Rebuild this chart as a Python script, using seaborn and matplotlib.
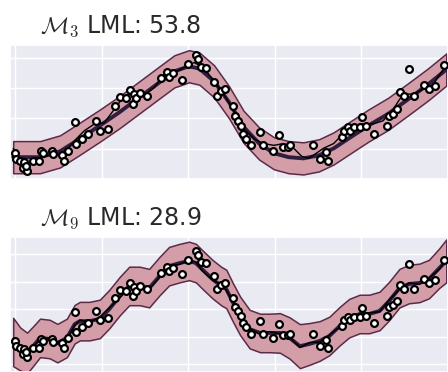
import numpy as np
import pandas as pd
import matplotlib
matplotlib.use("Agg")
import matplotlib.pyplot as plt
import seaborn as sns

sns.set_theme(style="darkgrid")
plt.rcParams["mathtext.fontset"] = "cm"
plt.rcParams["font.family"] = ["DejaVu Sans"]

# observed points (same in both panels)
obs_x = [0.00, 0.01, 0.06, 0.10, 0.09, 0.14, 0.13, 0.21, 0.28, 0.30, 0.32, 0.43, 0.44, 0.54,
         0.57, 0.61, 0.69, 0.70, 0.78, 0.84, 0.94, 0.98, 1.07, 1.15, 1.21, 1.28, 1.33, 1.36,
         1.38, 1.40, 1.44, 1.52, 1.69, 1.76, 1.78, 1.82, 1.93, 2.00, 2.09, 2.11, 2.15, 2.21,
         2.30, 2.33, 2.38, 2.43, 2.52, 2.54, 2.57, 2.61, 2.63, 2.67, 2.72, 2.83, 2.86, 2.98,
         3.05, 3.09, 3.15, 3.18, 3.44, 3.52, 3.59, 3.62, 3.78, 3.80, 3.84, 3.87, 3.92, 4.01,
         3.98, 4.05, 4.15, 4.30, 4.32, 4.36, 4.41, 4.45, 4.49, 4.55, 4.61, 4.72, 4.78, 4.85, 4.95]
obs_y = [0.85, 0.65, 0.59, 0.55, 0.36, 0.26, 0.42, 0.59, 0.59, 0.91, 0.85, 0.91, 0.81, 0.78,
         0.59, 0.94, 1.89, 1.17, 1.33, 1.50, 1.92, 1.59, 1.66, 2.41, 2.70, 2.67, 2.93, 2.47,
         2.80, 2.67, 2.83, 2.73, 3.32, 3.54, 3.38, 3.51, 3.28, 3.80, 4.10, 3.97, 3.71, 3.67,
         3.19, 2.73, 2.89, 2.96, 2.41, 2.08, 1.92, 1.76, 1.50, 1.33, 1.11, 1.56, 1.11, 0.94,
         1.46, 1.07, 1.07, 1.11, 1.11, 0.65, 0.88, 0.59, 1.40, 1.59, 1.72, 1.59, 1.72, 2.05,
         1.72, 1.76, 1.50, 1.76, 2.08, 2.15, 2.31, 2.86, 2.73, 3.64, 2.73, 3.09, 2.96, 3.06, 3.77]

# M3 posterior mean, band half-width and one sample
m3_x = [-0.02, 0.29, 0.52, 0.75, 0.98, 1.21, 1.44, 1.67, 1.84, 2.01, 2.13, 2.30, 2.47,
        2.64, 2.82, 2.99, 3.16, 3.33, 3.51, 3.68, 3.85, 4.08, 4.31, 4.54, 4.77, 4.98]
m3_mean = [0.72, 0.72, 0.91, 1.33, 1.76, 2.21, 2.70, 3.19, 3.55, 3.72, 3.64, 3.22, 2.54,
           1.72, 1.17, 0.85, 0.72, 0.68, 0.78, 1.01, 1.33, 1.76, 2.15, 2.63, 3.12, 3.61]
m3_half = 0.53
m3_sx = [-0.02, 0.03, 0.11, 0.23, 0.34, 0.46, 0.57, 0.69, 0.80, 0.92, 1.03, 1.15, 1.26, 1.38,
         1.49, 1.61, 1.72, 1.84, 1.95, 2.07, 2.18, 2.30, 2.41, 2.53, 2.64, 2.76, 2.87, 2.99,
         3.10, 3.22, 3.31, 3.39, 3.48, 3.56, 3.68, 3.79, 3.91, 4.02, 4.14, 4.25, 4.37, 4.48,
         4.60, 4.71, 4.83, 4.98]
m3_sample = [1.01, 0.52, 0.42, 0.68, 0.75, 0.81, 0.85, 1.27, 1.59, 1.82, 1.85, 2.31, 2.73, 2.86,
             2.76, 3.02, 3.45, 3.51, 3.67, 3.84, 3.67, 3.22, 2.80, 2.24, 1.66, 1.33, 1.17, 1.11,
             1.17, 1.01, 0.75, 0.68, 0.85, 1.01, 1.17, 1.50, 1.72, 1.82, 1.82, 1.92, 2.31, 2.80,
             2.80, 2.96, 3.12, 3.77]

# M9 posterior mean, band half-width and one sample
m9_x = [-0.02, 0.06, 0.14, 0.21, 0.29, 0.40, 0.49, 0.60, 0.69, 0.75, 0.86, 0.98, 1.09, 1.21,
        1.32, 1.44, 1.55, 1.67, 1.78, 1.90, 2.01, 2.09, 2.16, 2.28, 2.38, 2.44, 2.52, 2.60,
        2.71, 2.83, 2.94, 3.06, 3.17, 3.29, 3.40, 3.52, 3.63, 3.75, 3.86, 3.98, 4.09, 4.21,
        4.32, 4.44, 4.55, 4.67, 4.78, 4.90, 4.98]
m9_mean = [0.80, 0.55, 0.40, 0.65, 0.95, 0.91, 0.76, 0.95, 1.45, 1.56, 1.56, 1.64, 2.00, 2.47,
           2.84, 2.84, 2.76, 3.20, 3.56, 3.67, 3.75, 3.67, 3.45, 3.09, 2.84, 2.73, 2.22, 1.75,
           1.27, 1.13, 1.13, 1.13, 0.95, 0.65, 0.73, 0.84, 1.02, 1.38, 1.67, 1.82, 1.82, 1.93,
           2.29, 2.76, 2.91, 2.95, 3.09, 3.49, 3.75]
m9_half = [0.88, 0.78, 0.74, 0.72, 0.70, 0.70, 0.70, 0.70, 0.70, 0.70, 0.70, 0.70, 0.70, 0.70,
           0.70, 0.70, 0.70, 0.70, 0.70, 0.70, 0.70, 0.70, 0.70, 0.70, 0.70, 0.70, 0.70, 0.70,
           0.70, 0.70, 0.70, 0.72, 0.75, 0.80, 0.76, 0.72, 0.70, 0.70, 0.70, 0.70, 0.70, 0.70,
           0.70, 0.70, 0.70, 0.70, 0.70, 0.72, 0.78]
m9_sample = [0.95, 0.50, 0.45, 0.62, 0.90, 0.95, 0.80, 0.90, 1.40, 1.60, 1.52, 1.70, 2.05, 2.40,
             2.80, 2.90, 2.72, 3.15, 3.60, 3.62, 3.80, 3.70, 3.40, 3.05, 2.90, 2.68, 2.25, 1.70,
             1.30, 1.08, 1.18, 1.10, 0.98, 0.60, 0.78, 0.80, 1.05, 1.35, 1.70, 1.78, 1.86, 1.90,
             2.33, 2.72, 2.95, 2.90, 3.12, 3.45, 3.80]

titles = [r"$\mathcal{M}_3$ LML: 53.8", r"$\mathcal{M}_9$ LML: 28.9"]

band_face = "#d49ea9"
band_edge = "#5b2b48"
mean_col = "#2f1d3d"

fig = plt.figure(figsize=(4.48, 3.72), dpi=100)
ax1 = fig.add_axes([10 / 448, 193 / 372, 438 / 448, 134 / 372])
ax2 = fig.add_axes([10 / 448, 0.0, 438 / 448, 135 / 372])

pts = pd.DataFrame({"x": obs_x, "y": obs_y})

panels = [
    (ax1, m3_x, m3_mean, [m3_half] * len(m3_x), m3_sx, m3_sample, (0.065, 4.42)),
    (ax2, m9_x, m9_mean, m9_half, m9_x, m9_sample, (-0.29, 4.62)),
]

for (ax, mx, mm, mh, sx, ss, ylim), title in zip(panels, titles):
    mm = np.array(mm)
    mh = np.array(mh)
    ax.fill_between(mx, mm - mh, mm + mh, facecolor=band_face, edgecolor=band_edge,
                    linewidth=1.1, zorder=1)
    sns.lineplot(x=mx, y=mm, ax=ax, color=mean_col, linewidth=2.8, zorder=2)
    sns.lineplot(x=sx, y=ss, ax=ax, color="black", linewidth=1.0, zorder=3)
    sns.scatterplot(data=pts, x="x", y="y", ax=ax, facecolor="white", edgecolor="black",
                    linewidth=1.6, s=24, zorder=4)
    ax.set_xlim(-0.057, 4.977)
    ax.set_ylim(*ylim)
    ax.set_xticks(range(0, 6))
    ax.set_yticks(range(0, 5))
    ax.set_xticklabels([])
    ax.set_yticklabels([])
    ax.set_xlabel("")
    ax.set_ylabel("")
    ax.tick_params(length=0)
    ax.text(30 / 438, 1.0 + 12 / 134, title, transform=ax.transAxes, ha="left",
            va="baseline", fontsize=17, color="#2a2a2a")

fig.savefig("out.png", dpi=100)
